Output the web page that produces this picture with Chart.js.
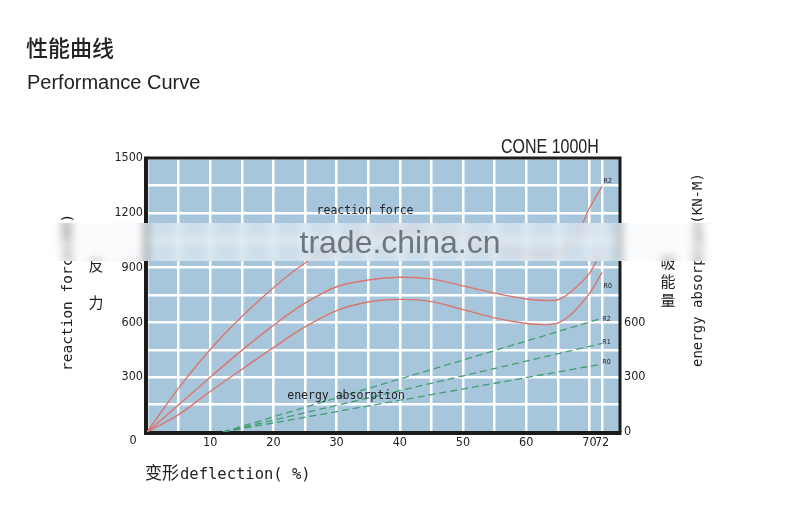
<!DOCTYPE html>
<html>
<head>
<meta charset="utf-8">
<script src="https://cdn.jsdelivr.net/npm/chart.js@4.4.1/dist/chart.umd.min.js"></script>
<style>
  html, body { margin: 0; padding: 0; background: #fff; }
  #wrap { position: relative; width: 800px; height: 505px; }
</style>
</head>
<body>
<div id="wrap"><canvas id="perf" width="800" height="505"></canvas></div>
<script>
// --- data (deflection %, force / energy) ---
const r2Deflection = [0, 5, 10, 15, 20, 25, 30, 35, 40, 45, 50, 55, 60, 65, 68, 70, 72];
const r2Force      = [0, 240, 452, 632, 790, 925, 1025, 1080, 1100, 1090, 1060, 1015, 975, 980, 1080, 1225, 1345];

const r1Deflection = [0, 5, 10, 15, 20, 25, 30, 35, 40, 45, 50, 55, 60, 63, 65, 67, 70, 72];
const r1Force      = [0, 148, 300, 447, 584, 705, 795, 832, 847, 838, 800, 760, 728, 720, 724, 765, 868, 1005];

const r0Deflection = [0, 5, 10, 15, 20, 25, 30, 35, 40, 45, 50, 55, 60, 63, 65, 67, 70, 72];
const r0Force      = [0, 95, 222, 343, 462, 575, 665, 712, 726, 714, 670, 625, 594, 588, 596, 640, 759, 874];

const absorbDeflection = [12, 72];
const absorbR2 = [0, 622];
const absorbR1 = [0, 485];
const absorbR0 = [0, 372];

// ticks
const xGridValues  = [0, 5, 10, 15, 20, 25, 30, 35, 40, 45, 50, 55, 60, 65, 70, 72, 75];
const xTickLabels  = [10, 20, 30, 40, 50, 60, 70, 72];
const yGridValues  = [0, 150, 300, 450, 600, 750, 900, 1050, 1200, 1350, 1500];
const yTickLabels  = [300, 600, 900, 1200, 1500];
const yRightLabels = [0, 300, 600];

// small tags next to the curve ends [text, deflection, value]
const curveTags = [['R2', 72.9, 1372], ['R0', 72.9, 800], ['R2', 72.7, 615], ['R1', 72.7, 492], ['R0', 72.7, 380]];

// --- styles ---
const PLOT_BG = '#a8c6db';
const RED = '#d9756c';
const GREEN = '#3f9f70';
const TICK_FONT = "'Liberation Sans Narrow', 'DejaVu Sans Condensed', sans-serif";
const MONO = "'DejaVu Sans Mono', monospace";
const CJK = "'Noto Sans CJK SC', sans-serif";

const toPts = (xs, ys) => xs.map((x, i) => ({ x: x, y: ys[i] }));

const redLine = (pts) => ({
  data: pts, borderColor: RED, borderWidth: 1.4, pointRadius: 0,
  tension: 0.35, yAxisID: 'y'
});
const greenLine = (pts) => ({
  data: pts, borderColor: GREEN, borderWidth: 1.3, borderDash: [7, 4], pointRadius: 0,
  yAxisID: 'y2'
});

const decor = {
  id: 'decor',
  beforeDraw(chart) {
    const { ctx, chartArea: a } = chart;
    ctx.save();
    ctx.fillStyle = '#fff';
    ctx.fillRect(0, 0, chart.width, chart.height);
    ctx.fillStyle = PLOT_BG;
    ctx.fillRect(a.left, a.top, a.right - a.left, a.bottom - a.top);
    ctx.restore();
  },
  beforeDatasetsDraw(chart) {
    const { ctx, chartArea: a } = chart;
    ctx.save();
    ctx.strokeStyle = '#1c1c1c';
    ctx.lineWidth = 3;
    ctx.beginPath();
    ctx.moveTo(a.left, a.top); ctx.lineTo(a.right - 1, a.top); ctx.lineTo(a.right - 1, a.bottom);
    ctx.stroke();
    ctx.lineWidth = 4;
    ctx.beginPath();
    ctx.moveTo(a.left - 1, a.top - 1.5); ctx.lineTo(a.left - 1, a.bottom + 1); ctx.lineTo(a.right + 0.5, a.bottom + 1);
    ctx.stroke();
    ctx.restore();
  },
  afterDraw(chart) {
    const { ctx, chartArea: a, scales } = chart;
    const sx = scales.x, sy = scales.y;
    ctx.save();
    ctx.fillStyle = '#222';

    // titles
    ctx.font = "500 22px " + CJK;
    ctx.textBaseline = 'middle';
    ctx.fillText('性能曲线', 26, 48);
    ctx.font = "20px 'Liberation Sans', Arial, sans-serif";
    ctx.textBaseline = 'alphabetic';
    ctx.fillText('Performance Curve', 27, 89);

    // model name, narrowed
    ctx.save();
    ctx.translate(501, 153);
    ctx.scale(0.82, 1);
    ctx.font = "19.5px 'Liberation Sans', Arial, sans-serif";
    ctx.fillText('CONE 1000H', 0, 0);
    ctx.restore();

    // corner zero
    ctx.font = '12.5px ' + TICK_FONT;
    ctx.textAlign = 'center';
    ctx.textBaseline = 'middle';
    ctx.fillText('0', a.left - 14, a.bottom + 9);

    // in-plot notes
    ctx.font = '11.5px ' + MONO;
    ctx.fillText('reaction force', sx.getPixelForValue(34.5), sy.getPixelForValue(1210));
    ctx.fillText('energy absorption', sx.getPixelForValue(31.5), sy.getPixelForValue(197));
    ctx.font = '7px ' + TICK_FONT;
    curveTags.forEach(([t, x, v]) => ctx.fillText(t, sx.getPixelForValue(x), sy.getPixelForValue(v)));

    // x title
    ctx.textAlign = 'left';
    ctx.textBaseline = 'alphabetic';
    ctx.font = '17px ' + CJK;
    ctx.fillText('变形', 145, 479);
    ctx.font = '15.5px ' + MONO;
    ctx.fillText('deflection( %)', 180, 479);

    // left titles
    ctx.save();
    ctx.translate(68, 371);
    ctx.rotate(-Math.PI / 2);
    ctx.font = '14.5px ' + MONO;
    ctx.textBaseline = 'middle';
    ctx.fillText('reaction force(KN)', 0, 0);
    ctx.restore();
    ctx.font = '15px ' + CJK;
    ctx.textAlign = 'center';
    ctx.textBaseline = 'middle';
    ctx.fillText('反', 96, 265);
    ctx.fillText('力', 96, 302);

    // right titles
    ctx.fillText('吸', 668, 262);
    ctx.fillText('能', 668, 281);
    ctx.fillText('量', 668, 300);
    ctx.save();
    ctx.translate(698, 367);
    ctx.rotate(-Math.PI / 2);
    ctx.font = '14px ' + MONO;
    ctx.textAlign = 'left';
    ctx.fillText('energy absorption(KN-M)', 0, 0);
    ctx.restore();
    ctx.restore();

    // watermark band: blur + lighten
    const bx0 = 40, bx1 = 725, by0 = 223, by1 = 261;
    const off = document.createElement('canvas');
    off.width = chart.width; off.height = chart.height;
    off.getContext('2d').drawImage(chart.canvas, 0, 0);
    ctx.save();
    ctx.beginPath();
    ctx.rect(bx0, by0, bx1 - bx0, by1 - by0);
    ctx.clip();
    ctx.filter = 'blur(4px)';
    ctx.drawImage(off, 0, 0);
    ctx.filter = 'none';
    const g = ctx.createLinearGradient(bx0, 0, bx1, 0);
    g.addColorStop(0, 'rgba(244,247,250,0)');
    g.addColorStop(0.1, 'rgba(244,247,250,0.5)');
    g.addColorStop(0.9, 'rgba(244,247,250,0.5)');
    g.addColorStop(1, 'rgba(244,247,250,0)');
    ctx.fillStyle = g;
    ctx.fillRect(bx0, by0, bx1 - bx0, by1 - by0);
    ctx.restore();
    ctx.save();
    ctx.font = "32px 'Liberation Sans', Arial, sans-serif";
    ctx.fillStyle = '#6c767c';
    ctx.textAlign = 'center';
    ctx.fillText('trade.china.cn', 400, 253);
    ctx.restore();
  }
};

new Chart(document.getElementById('perf'), {
  type: 'line',
  data: {
    datasets: [
      redLine(toPts(r2Deflection, r2Force)),
      redLine(toPts(r1Deflection, r1Force)),
      redLine(toPts(r0Deflection, r0Force)),
      greenLine(toPts(absorbDeflection, absorbR2)),
      greenLine(toPts(absorbDeflection, absorbR1)),
      greenLine(toPts(absorbDeflection, absorbR0))
    ]
  },
  options: {
    responsive: false,
    devicePixelRatio: 1,
    animation: false,
    layout: { padding: { top: 158, left: 0, right: 0, bottom: 0 } },
    plugins: { legend: { display: false }, tooltip: { enabled: false } },
    scales: {
      x: {
        type: 'linear', min: 0, max: 75,
        afterBuildTicks: (s) => { s.ticks = xGridValues.map(v => ({ value: v })); },
        afterFit: (s) => { s.height = 73; },
        grid: { color: '#fff', lineWidth: 2.5, drawTicks: false },
        border: { display: false },
        ticks: {
          autoSkip: false, maxRotation: 0, padding: 3,
          font: { family: TICK_FONT, size: 12.5 }, color: '#222',
          callback: (v) => xTickLabels.includes(v) ? String(v) : ''
        }
      },
      y: {
        position: 'left', min: 0, max: 1500,
        afterBuildTicks: (s) => { s.ticks = yGridValues.map(v => ({ value: v })); },
        afterFit: (s) => { s.width = 147; },
        grid: { color: '#fff', lineWidth: 2.5, drawTicks: false },
        border: { display: false },
        ticks: {
          padding: 4, font: { family: TICK_FONT, size: 12.5 }, color: '#222',
          callback: (v) => yTickLabels.includes(v) ? String(v) : ''
        }
      },
      y2: {
        position: 'right', min: 0, max: 1500,
        afterBuildTicks: (s) => { s.ticks = yRightLabels.map(v => ({ value: v })); },
        afterFit: (s) => { s.width = 179; },
        grid: { display: false, drawTicks: false },
        border: { display: false },
        ticks: { padding: 3, font: { family: TICK_FONT, size: 12.5 }, color: '#222' }
      }
    }
  },
  plugins: [decor]
});
</script>
</body>
</html>
